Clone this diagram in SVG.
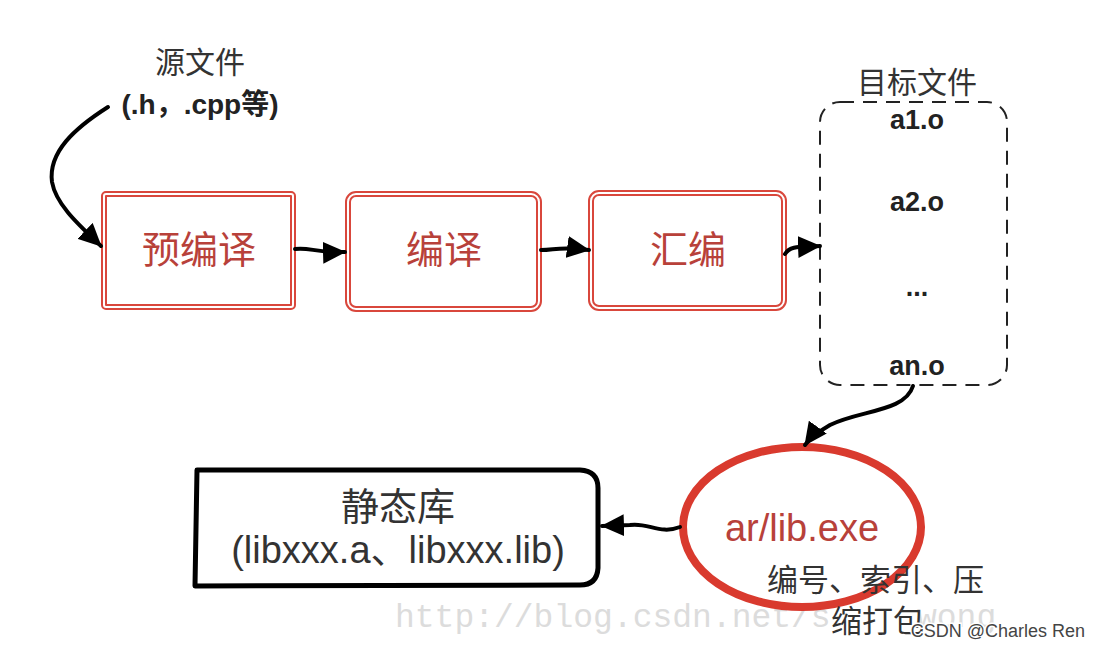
<svg xmlns="http://www.w3.org/2000/svg" width="1096" height="646" viewBox="0 0 1096 646">
<style>
.lbl{font-family:"Liberation Sans","Noto Sans CJK SC",sans-serif;fill:#333}
.bold{font-weight:bold;fill:#222}
.red{font-family:"Liberation Sans","Noto Sans CJK SC",sans-serif;fill:#b8413a}
.rbox{fill:#fff;stroke:#d9473c;stroke-width:6}
.rin{fill:none;stroke:#fff;stroke-width:2}
.conn{fill:none;stroke:#000;stroke-width:4;stroke-linecap:round}
.wm{font-family:"Liberation Mono",monospace;fill:#dcdcdc;font-size:33px}
</style>
<defs>
<marker id="ah" markerUnits="userSpaceOnUse" markerWidth="26" markerHeight="22" refX="22" refY="11" orient="auto">
<path d="M0,0 L23,11 L0,22 Z" fill="#000"/>
</marker>
</defs>
<rect width="1096" height="646" fill="#fff"/>
<g id="watermark">
<text class="wm" x="395" y="627">http://blog.csdn.net/s</text>
<text class="wm" x="917" y="627">wong</text>
</g>
<g id="source">
<text class="lbl" x="200" y="73" font-size="30" text-anchor="middle">源文件</text>
<text class="lbl bold" x="200" y="114" font-size="28" text-anchor="middle">(.h，.cpp等)</text>
</g>
<g id="preprocess">
<rect class="rbox" x="104" y="194" width="189" height="113" rx="2"/>
<rect class="rin" x="104" y="194" width="189" height="113" rx="2"/>
<text class="red" x="199" y="263" font-size="38" text-anchor="middle">预编译</text>
</g>
<g id="compile">
<rect class="rbox" x="348" y="194" width="191" height="115" rx="8"/>
<rect class="rin" x="348" y="194" width="191" height="115" rx="8"/>
<text class="red" x="444" y="263" font-size="38" text-anchor="middle">编译</text>
</g>
<g id="assemble">
<rect class="rbox" x="591" y="193" width="193" height="115" rx="8"/>
<rect class="rin" x="591" y="193" width="193" height="115" rx="8"/>
<text class="red" x="688" y="263" font-size="38" text-anchor="middle">汇编</text>
</g>
<g id="objects">
<text class="lbl" x="917" y="93" font-size="30" text-anchor="middle">目标文件</text>
<rect x="820" y="102" width="187" height="283" rx="20" fill="none" stroke="#222" stroke-width="2" stroke-dasharray="14,9"/>
<text class="lbl bold" x="917" y="129" font-size="27" text-anchor="middle">a1.o</text>
<text class="lbl bold" x="917" y="211" font-size="27" text-anchor="middle">a2.o</text>
<text class="lbl bold" x="917" y="296" font-size="27" text-anchor="middle">...</text>
<text class="lbl bold" x="917" y="375" font-size="27" text-anchor="middle">an.o</text>
</g>
<g id="ar">
<ellipse cx="802" cy="527" rx="119" ry="80" fill="none" stroke="#d93a2e" stroke-width="8"/>
<text class="red" x="802" y="541" font-size="38" text-anchor="middle">ar/lib.exe</text>
<text class="lbl" x="767" y="591" font-size="31">编号、索引、压</text>
<text class="lbl" x="831" y="632" font-size="31">缩打包</text>
</g>
<g id="staticlib">
<path d="M197,470 L580,470 Q598,471 598,488 L598,568 Q597,585 580,585 L195,586 Z" fill="#fff" stroke="#000" stroke-width="5" stroke-linejoin="round"/>
<text class="lbl" x="398" y="520" font-size="38" text-anchor="middle" fill="#222">静态库</text>
<text class="lbl" x="398" y="563" font-size="38" text-anchor="middle" fill="#222">(libxxx.a、libxxx.lib)</text>
</g>
<g id="connectors">
<path class="conn" d="M108,107 C75,128 48,152 52,182 C56,205 80,226 101,246" marker-end="url(#ah)"/>
<path class="conn" d="M295,249 C310,247 315,253 345,252" marker-end="url(#ah)"/>
<path class="conn" d="M541,250 C555,250 560,246 589,250" marker-end="url(#ah)"/>
<path class="conn" d="M785,254 C790,246 798,247 820,246" marker-end="url(#ah)"/>
<path class="conn" d="M913,386 C905,412 860,410 830,425 C818,432 810,438 805,445" marker-end="url(#ah)"/>
<path class="conn" d="M680,527 C660,535 648,522 630,525 L602,526" marker-end="url(#ah)"/>
</g>
<text x="1085" y="637" font-family="Liberation Sans, sans-serif" font-size="18" fill="#444" text-anchor="end" stroke="#fff" stroke-width="3" paint-order="stroke">CSDN @Charles Ren</text>
</svg>
